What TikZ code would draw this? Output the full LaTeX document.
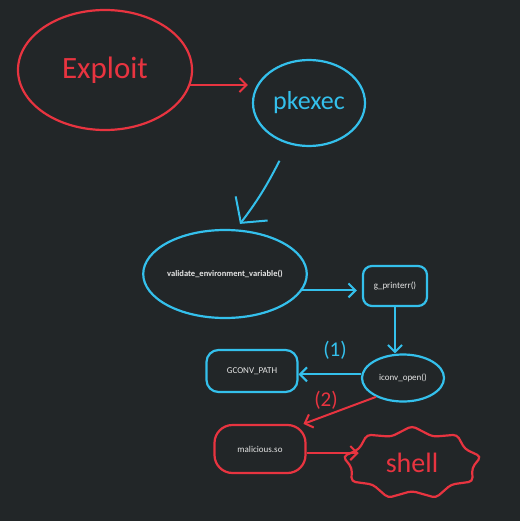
\documentclass[tikz,border=0pt]{standalone}
\usepackage{fontspec}
\setmainfont{Carlito}
\usetikzlibrary{shapes.geometric, shapes.symbols, arrows.meta, positioning}
\definecolor{bgcolor}{RGB}{34,38,40}
\definecolor{sketchred}{RGB}{232,52,64}
\definecolor{sketchcyan}{RGB}{52,192,236}
\definecolor{labelgray}{RGB}{230,230,230}

\begin{document}
\begin{tikzpicture}[
    x=1pt, y=-1pt,
    redblob/.style={ellipse, draw=sketchred, line width=2.2pt, inner sep=0pt},
    cyanblob/.style={ellipse, draw=sketchcyan, line width=2.2pt, inner sep=0pt},
    cyanbox/.style={rectangle, rounded corners=12pt, draw=sketchcyan, line width=2.2pt, inner sep=0pt},
    redbox/.style={rectangle, rounded corners=18pt, draw=sketchred, line width=2.2pt, inner sep=0pt},
    fn/.style={font=\fontsize{9}{10}\selectfont, text=labelgray},
    hand/.style={font=\fontsize{26}{28}\selectfont},
    redarrow/.style={-{Straight Barb[length=7pt, width=14pt]}, sketchred, line width=2pt},
    cyanarrow/.style={-{Straight Barb[length=7pt, width=14pt]}, sketchcyan, line width=2pt},
    bigarrow/.style={-{Straight Barb[length=18pt, width=40pt]}, sketchcyan, line width=2pt}
]
\fill[bgcolor] (0,0) rectangle (520,521);
\useasboundingbox (0,0) rectangle (520,521);

% top part
\node[redblob, minimum width=174pt, minimum height=120pt, text=sketchred,
      font=\fontsize{31}{32}\selectfont] (exploit) at (105,70) {Exploit};
\node[cyanblob, minimum width=112pt, minimum height=86pt, text=sketchcyan, hand] (pkexec) at (309,103) {pkexec};

% call chain
\node[cyanblob, minimum width=125pt, minimum height=88pt, fn, font=\bfseries\fontsize{8.5}{10}\selectfont] (valid) at (225,274) {validate\_environment\_variable()};
\node[cyanbox, minimum width=64pt, minimum height=40pt, rounded corners=9pt, fn] (gprint) at (395,286) {g\_printerr()};
\node[cyanblob, minimum width=82pt, minimum height=47pt, fn] (iconv) at (403,378) {iconv\_open()};
\node[cyanbox, minimum width=91pt, minimum height=42pt, fn] (gconv) at (252,371) {GCONV\_PATH};

% payload
\node[redbox, minimum width=91pt, minimum height=48pt, fn] (malic) at (260,449) {malicious.so};
\node[starburst, starburst points=9, starburst point height=9pt, random starburst=0,
      rounded corners=4pt, draw=sketchred, line width=2.2pt, minimum width=140pt, minimum height=74pt,
      text=sketchred, font=\fontsize{28}{30}\selectfont] (shell) at (412,463) {shell};

\node[text=sketchcyan, font=\fontsize{21}{22}\selectfont] (lab1) at (335,350) {(1)};
\node[text=sketchred, font=\fontsize{21}{22}\selectfont] (lab2) at (326,400) {(2)};

\draw[redarrow, shorten >=4pt] (exploit.-10) -- (exploit.-10 -| pkexec.west);
\draw[bigarrow] ([yshift=-20pt]pkexec.232) to[bend left=5] ([xshift=15pt, yshift=5pt]valid.north);
\draw[cyanarrow, shorten >=5pt] (valid.-12) -- (valid.-12 -| gprint.west);
\draw[cyanarrow] (gprint.south) -- (gprint.south |- iconv.north);
\draw[cyanarrow] (iconv.175) -- (iconv.175 -| gconv.east);
\draw[redarrow] (iconv.215) -- (malic.30);
\draw[redarrow, shorten >=-12pt] (malic.-5) -- (malic.-5 -| shell.west);
\end{tikzpicture}
\end{document}
